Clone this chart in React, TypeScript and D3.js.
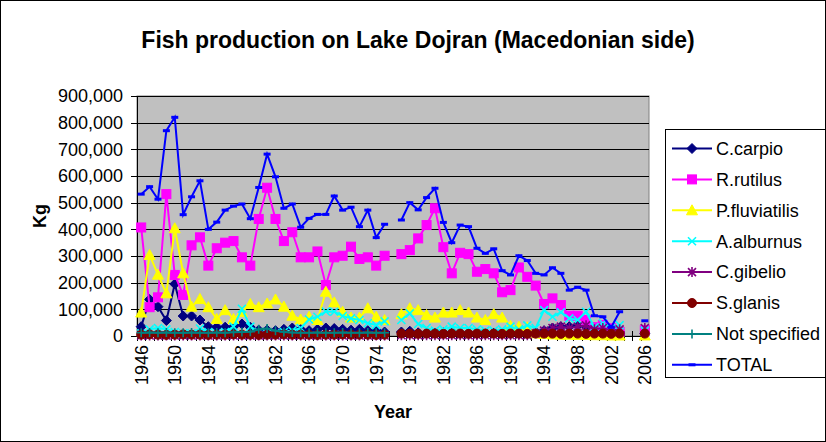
import React from "react";
import * as d3 from "d3";

const years: number[] = d3.range(1946, 2007);
const tickYears: number[] = [1946, 1950, 1954, 1958, 1962, 1966, 1970, 1974, 1978, 1982, 1986, 1990, 1994, 1998, 2002, 2006];
const yTicks: number[] = [0, 100000, 200000, 300000, 400000, 500000, 600000, 700000, 800000, 900000];

const N = null;
// values in kg, 1946..2006
const cCarpio = [35000, 137000, 110000, 58000, 195000, 75000, 75000, 60000, 35000, 33000, 33000, 35000, 45000, 33000, 22000, 22000, 20000, 25000, 30000, 25000, 20000, 25000, 30000, 28000, 25000, 22000, 25000, 20000, 22000, 15000, N, 15000, 18000, 12000, 10000, 10000, 12000, 10000, 10000, 10000, 8000, 8000, 10000, 8000, 8000, 8000, 10000, 15000, 20000, 30000, 35000, 35000, 40000, 35000, 25000, 20000, 10000, 8000, N, N, 10000];
const rRutilus = [407000, 108000, 145000, 532000, 229000, 154000, 340000, 370000, 264000, 329000, 350000, 356000, 295000, 264000, 439000, 556000, 439000, 356000, 389000, 295000, 295000, 317000, 191000, 295000, 301000, 335000, 289000, 295000, 264000, 301000, N, 307000, 322000, 366000, 416000, 479000, 333000, 235000, 312000, 307000, 241000, 251000, 235000, 164000, 172000, 257000, 222000, 189000, 120000, 141000, 116000, 76000, 76000, 60000, 33000, 41000, 29000, 15000, N, N, 22000];
const pFluviatilis = [88000, 304000, 230000, 160000, 404000, 235000, 110000, 139000, 108000, 64000, 97000, 64000, 90000, 120000, 108000, 122000, 137000, 110000, 76000, 62000, 72000, 60000, 166000, 126000, 91000, 69000, 69000, 104000, 72000, 60000, N, 82000, 104000, 97000, 79000, 69000, 88000, 88000, 97000, 88000, 69000, 60000, 82000, 69000, 38000, 35000, 33000, 10000, 8000, 6000, 5000, 5000, 4000, 4000, 3000, 3000, 2000, 2000, N, N, 2000];
const aAlburnus = [10000, 25000, 30000, 25000, 15000, 10000, 10000, 28000, 15000, 10000, 15000, 35000, 102000, 35000, 15000, 10000, 10000, 15000, 20000, 30000, 62000, 72000, 92000, 91000, 75000, 66000, 60000, 48000, 41000, 55000, N, 60000, 85000, 45000, 30000, 20000, 25000, 35000, 30000, 30000, 25000, 20000, 20000, 25000, 35000, 25000, 40000, 30000, 97000, 72000, 89000, 66000, 60000, 91000, 33000, 48000, 29000, 41000, N, N, 20000];
const cGibelio = [2000, 2000, 2000, 2000, 2000, 2000, 2000, 2000, 2000, 2000, 2000, 2000, 2000, 2000, 2000, 2000, 2000, 2000, 2000, 2000, 2000, 2000, 2000, 2000, 2000, 2000, 2000, 2000, 2000, 2000, N, 3000, 3000, 3000, 3000, 3000, 3000, 3000, 3000, 3000, 3000, 3000, 3000, 3000, 3000, 3000, 3000, 10000, 20000, 30000, 35000, 30000, 35000, 40000, 25000, 30000, 20000, 25000, N, N, 30000];
const sGlanis = [5000, 6000, 5000, 4000, 5000, 6000, 5000, 5000, 4000, 5000, 5000, 6000, 5000, 5000, 4000, 5000, 5000, 6000, 5000, 5000, 5000, 4000, 5000, 5000, 6000, 5000, 5000, 5000, 4000, 5000, N, 9000, 9000, 8000, 9000, 9000, 8000, 9000, 9000, 8000, 9000, 9000, 9000, 8000, 9000, 9000, 8000, 9000, 9000, 9000, 8000, 9000, 9000, 8000, 9000, 9000, 8000, 9000, N, N, 9000];
const notSpecified = [12000, 13000, 12000, 13000, 12000, 12000, 13000, 12000, 12000, 13000, 12000, 14000, 15000, 16000, 25000, 28000, 20000, 15000, 13000, 12000, 12000, 13000, 12000, 12000, 13000, 12000, 12000, 13000, 12000, 12000, N, N, N, N, N, N, N, N, N, N, N, N, N, N, N, N, N, N, N, N, N, N, N, N, N, N, N, N, N, N, N];
const total = [532000, 560000, 513000, 770000, 820000, 455000, 522000, 582000, 400000, 427000, 472000, 487000, 495000, 440000, 557000, 682000, 597000, 479000, 495000, 408000, 441000, 456000, 456000, 525000, 472000, 483000, 410000, 472000, 369000, 419000, N, 435000, 500000, 473000, 519000, 554000, 426000, 350000, 416000, 410000, 329000, 310000, 327000, 245000, 229000, 301000, 283000, 235000, 229000, 256000, 235000, 172000, 183000, 172000, 76000, 72000, 33000, 91000, N, N, 57000];

const seriesNames = ["C.carpio", "R.rutilus", "P.fluviatilis", "A.alburnus", "C.gibelio", "S.glanis", "Not specified", "TOTAL"];
const seriesValues = [cCarpio, rRutilus, pFluviatilis, aAlburnus, cGibelio, sGlanis, notSpecified, total];
const seriesColors = ["#000080", "#FF00FF", "#FFFF00", "#00FFFF", "#800080", "#800000", "#008080", "#0000FF"];
const seriesMarkers = ["diamond", "square", "triangle", "x", "asterisk", "circle", "plus", "dash"];

const FONT = "'Liberation Sans', Arial, sans-serif";

function Marker({ type, x, y, color }: { type: string; x: number; y: number; color: string }) {
  switch (type) {
    case "diamond":
      return <path d={`M${x},${y - 5}L${x + 5},${y}L${x},${y + 5}L${x - 5},${y}Z`} fill={color} stroke={color} strokeWidth={1} />;
    case "square":
      return <rect x={x - 4.5} y={y - 4.5} width={9} height={9} fill={color} stroke={color} strokeWidth={1} />;
    case "triangle":
      return <path d={`M${x},${y - 5.5}L${x + 5.5},${y + 4.5}L${x - 5.5},${y + 4.5}Z`} fill={color} stroke={color} strokeWidth={1} />;
    case "x":
      return <path d={`M${x - 4},${y - 4}L${x + 4},${y + 4}M${x - 4},${y + 4}L${x + 4},${y - 4}`} stroke={color} strokeWidth={1.6} fill="none" />;
    case "asterisk":
      return <path d={`M${x - 4},${y - 4}L${x + 4},${y + 4}M${x - 4},${y + 4}L${x + 4},${y - 4}M${x},${y - 5}L${x},${y + 5}`} stroke={color} strokeWidth={1.6} fill="none" />;
    case "circle":
      return <circle cx={x} cy={y} r={4.5} fill={color} stroke={color} strokeWidth={1} />;
    case "plus":
      return <path d={`M${x - 4.5},${y}L${x + 4.5},${y}M${x},${y - 4.5}L${x},${y + 4.5}`} stroke={color} strokeWidth={1.6} fill="none" />;
    case "dash":
      return <rect x={x - 3.5} y={y - 1.5} width={7} height={3} fill={color} />;
    default:
      return null;
  }
}

export default function App() {
  const W = 826;
  const H = 442;
  const left = 137, right = 649, top = 96, bottom = 336;
  const x = d3.scaleBand<number>().domain(years).range([left, right]).padding(0);
  const cx = (yr: number) => (x(yr) as number) + x.bandwidth() / 2;
  const y = d3.scaleLinear().domain([0, 900000]).range([bottom, top]);
  const line = d3
    .line<[number, number | null]>()
    .defined((d) => d[1] != null)
    .x((d) => cx(d[0]))
    .y((d) => y(d[1] as number));

  const fmt = d3.format(",");

  const legendX = 665, legendY = 129, legendW = 160, legendH = 248;
  const legendRow0 = 148.5, legendStep = 30.9;

  return (
    <svg width={W} height={H} style={{ position: "absolute", left: 0, top: 0, background: "#fff" }} fontFamily={FONT}>
      <rect x={0} y={0} width={W} height={H} fill="#fff" />
      <rect x={0.5} y={0.5} width={W - 1} height={H - 1} fill="none" stroke="#000" strokeWidth={1} />
      {/* title */}
      <text x={418} y={48} textAnchor="middle" fontSize={23} fontWeight="bold" fill="#000">
        Fish production on Lake Dojran (Macedonian side)
      </text>
      {/* plot area */}
      <rect x={left} y={top} width={right - left} height={bottom - top} fill="#C0C0C0" stroke="#808080" strokeWidth={1} />
      {yTicks.filter((t) => t > 0).map((t) => (
        <line key={"g" + t} x1={left} x2={right} y1={Math.round(y(t)) + 0.5} y2={Math.round(y(t)) + 0.5} stroke="#000" strokeWidth={1} />
      ))}
      {/* y axis */}
      <line x1={left + 0.5} x2={left + 0.5} y1={top} y2={bottom} stroke="#000" />
      {yTicks.map((t) => (
        <g key={"yt" + t}>
          <line x1={left - 6} x2={left} y1={Math.round(y(t)) + 0.5} y2={Math.round(y(t)) + 0.5} stroke="#000" />
          <text x={left - 14} y={y(t)} dy="0.35em" textAnchor="end" fontSize={18} fill="#000">
            {fmt(t)}
          </text>
        </g>
      ))}
      {/* x axis */}
      <line x1={left} x2={right} y1={bottom + 0.5} y2={bottom + 0.5} stroke="#000" />
      {years.map((yr) => (
        <line key={"xt" + yr} x1={Math.round(x(yr) as number) + 0.5} x2={Math.round(x(yr) as number) + 0.5} y1={bottom - 5} y2={bottom + 5} stroke="#000" />
      ))}
      {tickYears.map((yr) => (
        <text key={"xl" + yr} transform={`translate(${cx(yr)},${bottom + 9}) rotate(-90)`} dy="0.35em" textAnchor="end" fontSize={18} fill="#000">
          {yr}
        </text>
      ))}
      {/* series */}
      {seriesValues.map((vals, si) => {
        const pts: [number, number | null][] = years.map((yr, i) => [yr, vals[i]]);
        return (
          <g key={"s" + si}>
            <path d={line(pts) || ""} fill="none" stroke={seriesColors[si]} strokeWidth={2} />
            {pts.filter((p) => p[1] != null).map((p) => (
              <Marker key={p[0]} type={seriesMarkers[si]} x={cx(p[0])} y={y(p[1] as number)} color={seriesColors[si]} />
            ))}
          </g>
        );
      })}
      {/* axis titles */}
      <text transform={`translate(46,216) rotate(-90)`} textAnchor="middle" fontSize={18} fontWeight="bold" fill="#000">
        Kg
      </text>
      <text x={393} y={418} textAnchor="middle" fontSize={18} fontWeight="bold" fill="#000">
        Year
      </text>
      {/* legend */}
      <rect x={legendX + 0.5} y={legendY + 0.5} width={legendW} height={legendH} fill="#fff" stroke="#000" strokeWidth={1} />
      {seriesNames.map((name, i) => {
        const ly = legendRow0 + i * legendStep;
        return (
          <g key={"l" + i}>
            <line x1={672} x2={712} y1={ly} y2={ly} stroke={seriesColors[i]} strokeWidth={2} />
            <Marker type={seriesMarkers[i]} x={692} y={ly} color={seriesColors[i]} />
            <text x={716} y={ly} dy="0.35em" fontSize={18} fill="#000">
              {name}
            </text>
          </g>
        );
      })}
    </svg>
  );
}
